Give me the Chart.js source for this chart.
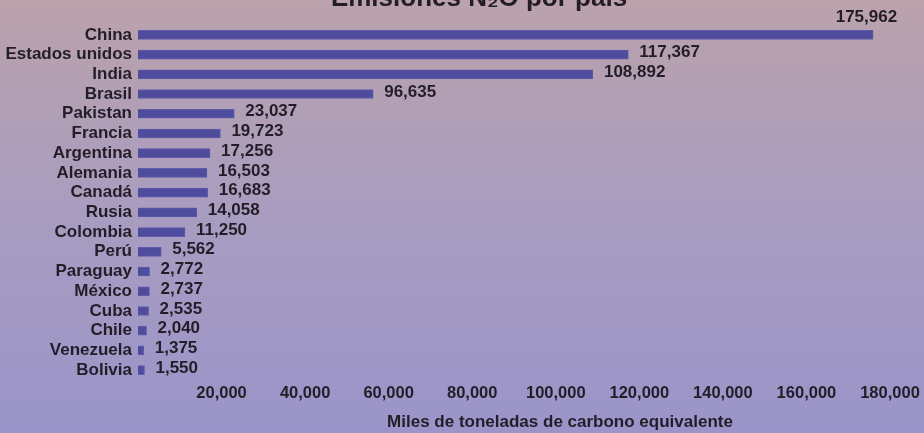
<!DOCTYPE html>
<html>
<head>
<meta charset="utf-8">
<script src="https://cdn.jsdelivr.net/npm/chart.js@4/dist/chart.umd.min.js"></script>
<style>
  html, body { margin: 0; padding: 0; }
  #wrap { width: 924px; height: 433px; position: relative; }
</style>
</head>
<body>
<div id="wrap"><canvas id="n2oChart"></canvas></div>
<script>
const countries = ['China', 'Estados unidos', 'India', 'Brasil', 'Pakistan', 'Francia', 'Argentina', 'Alemania', 'Canadá', 'Rusia', 'Colombia', 'Perú', 'Paraguay', 'México', 'Cuba', 'Chile', 'Venezuela', 'Bolivia'];
// values printed next to each bar
const emissions = [175962, 117367, 108892, 96635, 23037, 19723, 17256, 16503, 16683, 14058, 11250, 5562, 2772, 2737, 2535, 2040, 1375, 1550];
// bar lengths as drawn in the picture (Brasil's bar is drawn much shorter than its label)
const barLengths = [175962, 117367, 108892, 56300, 23037, 19723, 17256, 16503, 16683, 14058, 11250, 5562, 2772, 2737, 2535, 2040, 1375, 1550];
const xTicks = [20000, 40000, 60000, 80000, 100000, 120000, 140000, 160000, 180000];
const xTitle = 'Miles de toneladas de carbono equivalente';

const font = '"Liberation Sans", Arial, sans-serif';
const ink = '#231d28';
const fmt = (v) => v.toLocaleString('en-US');

const background = {
    id: 'background',
    beforeDraw(chart) {
        const { ctx, width, height } = chart;
        const g = ctx.createLinearGradient(0, 0, 0, height);
        g.addColorStop(0, '#bba2ab');
        g.addColorStop(0.5, '#a89cc0');
        g.addColorStop(1, '#9a94c9');
        ctx.save();
        ctx.fillStyle = g;
        ctx.fillRect(0, 0, width, height);
        ctx.restore();
    },
};

const titleAndLabels = {
    id: 'titleAndLabels',
    afterDatasetsDraw(chart) {
        const { ctx, width } = chart;
        ctx.save();
        ctx.fillStyle = ink;
        ctx.font = 'bold 26px ' + font;
        ctx.textAlign = 'center';
        ctx.textBaseline = 'alphabetic';
        ctx.fillText('Emisiones N\u2082O por país', 479, 6);

        // x axis title sits right of the plot centre in the original
        ctx.font = 'bold 17px ' + font;
        ctx.textBaseline = 'middle';
        ctx.fillText(xTitle, 560, 422);

        chart.getDatasetMeta(0).data.forEach((bar, i) => {
            const text = fmt(emissions[i]);
            const w = ctx.measureText(text).width;
            if (bar.x + 10 + w > width - 4) {
                ctx.textAlign = 'right';
                ctx.fillText(text, bar.x + 24, bar.y - 18);
            } else {
                ctx.textAlign = 'left';
                ctx.fillText(text, bar.x + 11, bar.y - 2);
            }
        });
        ctx.restore();
    },
};

new Chart(document.getElementById('n2oChart'), {
    type: 'bar',
    data: {
        labels: countries,
        datasets: [{
            data: barLengths,
            backgroundColor: '#4f4c9d',
            borderColor: '#5e5bab',
            borderWidth: 1,
            barThickness: 9,
        }],
    },
    options: {
        indexAxis: 'y',
        responsive: true,
        maintainAspectRatio: false,
        animation: false,
        layout: { padding: { top: 25, right: 34, bottom: 0, left: 0 } },
        plugins: { legend: { display: false }, tooltip: { enabled: false } },
        scales: {
            x: {
                min: 0,
                max: 180000,
                afterBuildTicks: (s) => { s.ticks = xTicks.map((v) => ({ value: v })); },
                afterFit: (s) => { s.height = 53; },
                grid: { display: false, drawTicks: false },
                border: { display: false },
                ticks: { padding: 4, color: ink, font: { family: font, size: 16.5, weight: 'bold' }, callback: (v) => fmt(v), maxRotation: 0 },
            },
            y: {
                afterFit: (s) => { s.width = 138; },
                grid: { display: false, drawTicks: false },
                border: { display: false },
                ticks: { padding: 6, color: ink, font: { family: font, size: 17, weight: 'bold' }, autoSkip: false },
            },
        },
    },
    plugins: [background, titleAndLabels],
});
</script>
</body>
</html>
